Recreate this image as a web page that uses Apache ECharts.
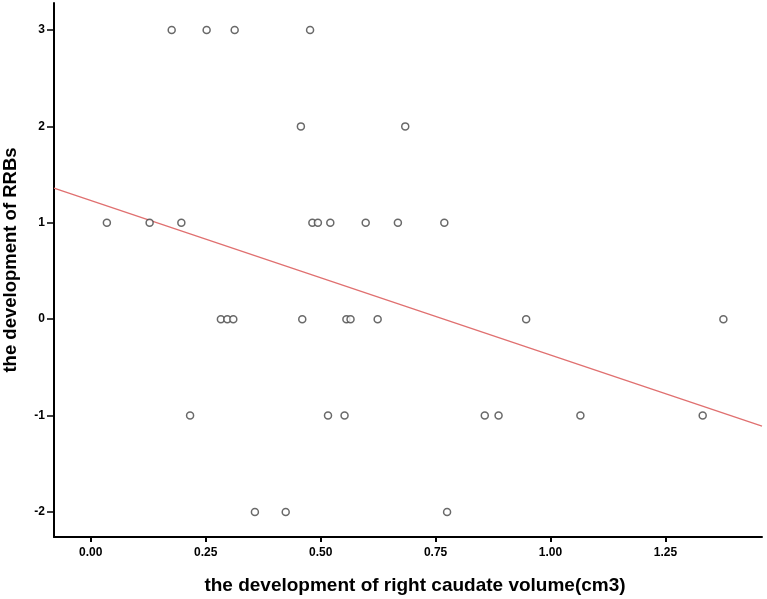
<!DOCTYPE html>
<html>
<head>
<meta charset="utf-8">
<script src="https://cdn.jsdelivr.net/npm/echarts@6/dist/echarts.min.js"></script>
<style>
html,body{margin:0;padding:0;background:#fff;}
#chart{width:767px;height:599px;}
</style>
</head>
<body>
<div id="chart"></div>
<script>
// Data
var volumeX = [0.176, 0.252, 0.313, 0.477,
               0.457, 0.684,
               0.035, 0.128, 0.197, 0.482, 0.494, 0.521, 0.598, 0.668, 0.769,
               0.283, 0.297, 0.310, 0.460, 0.556, 0.565, 0.624, 0.947, 1.376,
               0.216, 0.516, 0.552, 0.857, 0.887, 1.065, 1.331,
               0.357, 0.424, 0.775];
var rrbsY = [3, 3, 3, 3,
             2, 2,
             1, 1, 1, 1, 1, 1, 1, 1, 1,
             0, 0, 0, 0, 0, 0, 0, 0, 0,
             -1, -1, -1, -1, -1, -1, -1,
             -2, -2, -2];
var fitLineX = [-0.08, 1.46];
var fitLineY = [1.36, -1.11];
var xTicks = [0.00, 0.25, 0.50, 0.75, 1.00, 1.25];
var yTicks = [-2, -1, 0, 1, 2, 3];
var xTitle = 'the development of right caudate volume(cm3)';
var yTitle = 'the development of RRBs';

var points = volumeX.map(function (x, i) { return [x, rrbsY[i]]; });
var fitLine = fitLineX.map(function (x, i) { return [x, fitLineY[i]]; });

var chart = echarts.init(document.getElementById('chart'));
chart.setOption({
  backgroundColor: '#ffffff',
  animation: false,
  grid: { left: 54, top: 3, right: 5, bottom: 62, containLabel: false, outerBoundsMode: 'none' },
  xAxis: {
    type: 'value',
    min: -0.08, max: 1.46,
    axisLine: { onZero: false, lineStyle: { color: '#000', width: 2 } },
    axisTick: { show: true, length: 5, lineStyle: { color: '#000', width: 2 },
      customValues: xTicks },
    axisLabel: { customValues: xTicks, margin: 10, fontFamily: 'Liberation Sans, Arial', fontWeight: 'bold', fontSize: 12, color: '#000',
      formatter: function (v) { return v.toFixed(2); } },
    splitLine: { show: false }
  },
  yAxis: {
    type: 'value',
    min: -2.26, max: 3.28,
    axisLine: { onZero: false, lineStyle: { color: '#000', width: 2 } },
    axisTick: { show: true, length: 7, lineStyle: { color: '#000', width: 1.5 }, customValues: yTicks },
    axisLabel: { customValues: yTicks, margin: 9, fontFamily: 'Liberation Sans, Arial', fontWeight: 'bold', fontSize: 12, color: '#000' },
    splitLine: { show: false }
  },
  graphic: [{
    type: 'text',
    rotation: Math.PI / 2,
    x: 11, y: 260,
    style: {
      text: yTitle,
      fontFamily: 'Liberation Sans, Arial', fontWeight: 'bold', fontSize: 18.5, fill: '#000',
      textAlign: 'center', textVerticalAlign: 'middle'
    }
  }, {
    type: 'text',
    x: 415, y: 586,
    style: {
      text: xTitle,
      fontFamily: 'Liberation Sans, Arial', fontWeight: 'bold', fontSize: 19, fill: '#000',
      textAlign: 'center', textVerticalAlign: 'middle'
    }
  }],
  series: [{
    type: 'line',
    data: fitLine,
    symbol: 'none',
    lineStyle: { color: '#e07070', width: 1.3 },
    z: 2
  }, {
    type: 'scatter',
    data: points,
    symbol: 'circle',
    symbolSize: 7,
    itemStyle: { color: '#ffffff', borderColor: '#444', borderWidth: 1.5 },
    z: 3
  }]
});
</script>
</body>
</html>
